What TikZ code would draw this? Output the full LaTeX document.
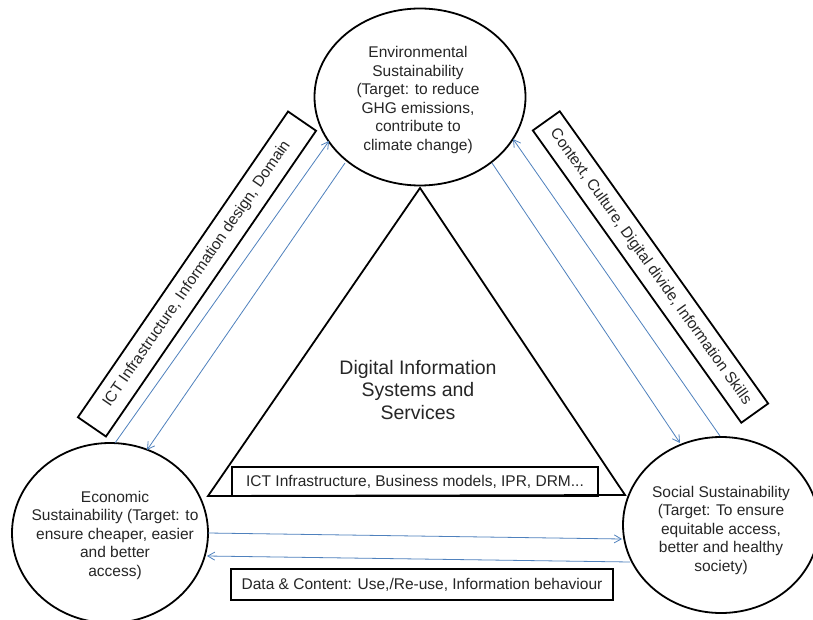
\documentclass[tikz,border=0pt]{standalone}
\usepackage{fontspec}
\setmainfont{Liberation Sans}
\usetikzlibrary{shapes.geometric,arrows.meta}
\definecolor{arrowblue}{RGB}{79,129,189}
\definecolor{inkgray}{RGB}{38,38,38}
\begin{document}
\begin{tikzpicture}[x=1pt,y=-1pt,
  circ/.style={draw=black, line width=1.8pt, ellipse, inner sep=0pt},
  txt/.style={align=center, font=\fontsize{15.5}{18.5}\selectfont, text=inkgray, inner sep=0pt},
  lbl/.style={draw=black, line width=1.8pt, font=\fontsize{15.5}{18.5}\selectfont, text=inkgray, inner sep=0pt},
  flow/.style={draw=arrowblue, line width=0.8pt, -{Straight Barb[length=7pt,width=8pt]}},
  tri/.style={draw=black, line width=1.8pt, line join=miter}
]
\useasboundingbox[fill=white] (0,0) rectangle (813,620);

% circles
\node[circ, minimum width=211pt, minimum height=177pt] (env) at (420,97) {};
\node[txt] (envt) at (418,100) {Environmental\\Sustainability\\(Target: to reduce\\GHG emissions,\\contribute to\\climate change)};

\node[circ, minimum width=196pt, minimum height=180pt] (eco) at (110,533) {};
\node[txt] (ecot) at (115,535) {Economic\\Sustainability (Target: to\\ensure cheaper, easier\\and better\\access)};

\node[circ, minimum width=196pt, minimum height=176pt] (soc) at (721,525) {};
\node[txt] (soct) at (721,530) {Social Sustainability\\(Target: To ensure\\equitable access,\\better and healthy\\society)};

% triangle
\coordinate (apex) at (420,188);
\coordinate (bl) at (208,496);
\coordinate (br) at (625,495);
\draw[tri] (bl) -- (apex) -- (br) -- cycle;

\node[txt, font=\fontsize{19.5}{22.5}\selectfont] (dis) at (418,390) {Digital Information\\Systems and\\Services};

% label boxes
\node[lbl, minimum width=366pt, minimum height=29pt] (b1) at (415,481.5) {ICT Infrastructure, Business models, IPR, DRM...};
\node[lbl, minimum width=382pt, minimum height=31pt] (b2) at (422,584.5) {Data \& Content: Use,/Re-use, Information behaviour};
\node[lbl, rotate=55.5, minimum width=371pt, minimum height=34pt] (b3) at (197,274) {ICT Infrastructure, Information design, Domain};
\node[lbl, rotate=-54.5, minimum width=359pt, minimum height=33pt] (b4) at (650.5,267) {Context, Culture, Digital divide, Information Skills};

% arrow end points
\coordinate (l1s) at (115,443);
\coordinate (l1e) at (329,141);
\coordinate (l2s) at (345,163);
\coordinate (l2e) at (147,450);
\coordinate (r1s) at (492,163);
\coordinate (r1e) at (680,443);
\coordinate (r2s) at (720,436);
\coordinate (r2e) at (513,139);
\coordinate (h1s) at (208,533);
\coordinate (h1e) at (622,539);
\coordinate (h2s) at (630,562);
\coordinate (h2e) at (207,556);

\draw[flow] (l1s) -- (l1e);
\draw[flow] (l2s) -- (l2e);
\draw[flow] (r1s) -- (r1e);
\draw[flow] (r2s) -- (r2e);
\draw[flow] (h1s) -- (h1e);
\draw[flow] (h2s) -- (h2e);
\end{tikzpicture}
\end{document}
